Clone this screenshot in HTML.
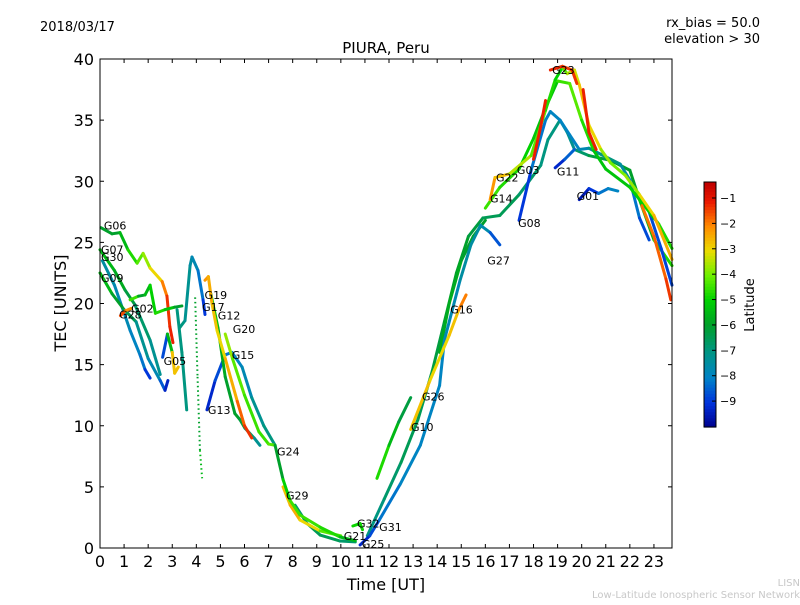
<!DOCTYPE html>
<html><head><meta charset="utf-8"><style>
body{margin:0;background:#fff;font-family:"Liberation Sans",sans-serif}
svg text{font-family:"DejaVu Sans","Liberation Sans",sans-serif}
</style></head><body>
<svg id="chart" width="800" height="600" viewBox="0 0 800 600">
<rect x="0" y="0" width="800" height="600" fill="#fff"/>
<text x="40" y="31" font-size="13">2018/03/17</text>
<text x="760" y="27" font-size="13" text-anchor="end">rx_bias = 50.0</text>
<text x="760" y="43" font-size="13" text-anchor="end">elevation &gt; 30</text>
<text x="386" y="53" font-size="15" text-anchor="middle">PIURA, Peru</text>
<text x="386" y="590" font-size="16" text-anchor="middle">Time [UT]</text>
<text transform="translate(66,303) rotate(-90)" font-size="16" text-anchor="middle">TEC [UNITS]</text>
<text x="754" y="305" font-size="13" text-anchor="middle" transform="rotate(-90 754 305)">Latitude</text>
<text x="800" y="586" font-size="10" fill="#c8c8c8" text-anchor="end">LISN</text>
<text x="800" y="598" font-size="10" fill="#c8c8c8" text-anchor="end">Low-Latitude Ionospheric Sensor Network</text>
<g id="marks"></g>
<g id="axes"></g>
</svg>
<script>
const xTicks=[0,1,2,3,4,5,6,7,8,9,10,11,12,13,14,15,16,17,18,19,20,21,22,23];
const yTicks=[0,5,10,15,20,25,30,35,40];
const cbTicks=[-1,-2,-3,-4,-5,-6,-7,-8,-9];
// tracks: [time UT, TEC, latitude]
const trackG06=[[0.04,26.2,-6],[0.5,25.7,-6],[0.83,25.8,-6],[1.16,24.4,-5],[1.54,23.3,-4.5],[1.79,24.1,-4],[2.08,22.9,-3.5],[2.58,21.8,-2.5],[2.78,20.6,-1.5],[2.9,18.1,-1.2],[3.03,16.8,-1.2]];
const trackG07=[[0,24.4,-5.5],[0.6,22.7,-5.5],[1.04,21.1,-6],[1.45,19.9,-6.5],[2.08,17,-7],[2.5,14.2,-7.5]];
const trackG30=[[0.1,23.5,-7.5],[0.6,21.5,-7.5],[1.25,17.8,-8],[1.66,15.8,-8],[1.87,14.6,-8.5],[2.08,13.9,-9.5]];
const trackG09=[[0,22.5,-5],[0.5,20.8,-6],[1.0,19.5,-6],[1.5,18.5,-7],[2.0,15.5,-7.5],[2.5,13.7,-8],[2.7,12.9,-9.2],[2.82,13.7,-9.5]];
const trackG02=[[1.25,20.3,-3],[1.6,20.6,-6],[1.87,20.7,-6],[2.08,21.5,-5],[2.3,19.2,-5],[2.7,19.5,-4.5],[3.1,19.7,-6],[3.4,19.8,-6]];
const trackG28=[[0.85,19.0,-1.3],[1.05,19.4,-1.8],[1.3,19.6,-2.5]];
const trackG05=[[2.6,15.6,-9.5],[2.8,17.5,-8],[3.0,16.0,-3],[3.1,14.3,-2.5],[3.25,14.8,-3]];
const trackHump=[[3.3,18.0,-7],[3.53,18.6,-7],[3.74,23.1,-7.5],[3.82,23.8,-7.5],[4.07,22.7,-8],[4.28,20.3,-8.5],[4.36,19.1,-9.5]];
const trackG17=[[3.2,19.5,-7],[3.4,16.0,-7],[3.6,11.3,-7]];
const trackDots=[[3.95,20.5,-6],[4.05,14,-6],[4.15,8.0,-5.5],[4.24,5.7,-5.5]];
const trackG19=[[4.36,21.9,-2],[4.5,22.2,-2.5],[4.65,20.0,-2.5],[4.86,17.8,-3],[5.2,15.5,-3],[5.7,12.0,-2],[6.0,10.0,-1.5],[6.3,9.0,-1.2]];
const trackG12=[[4.6,20.8,-5],[4.9,18.0,-5.5],[5.2,14.0,-6],[5.6,11.0,-6],[5.81,10.5,-6],[6.02,9.8,-6.5],[6.4,9.0,-7],[6.64,8.4,-7.5]];
const trackG20=[[5.2,17.5,-3.5],[5.5,15.5,-4],[6.0,12.5,-4.5],[6.6,9.5,-4.5],[7.0,8.5,-4.5],[7.27,8.4,-4]];
const trackG15=[[5.48,16.0,-8],[5.9,14.8,-8],[6.3,12.3,-7.5],[6.8,10.0,-7],[7.27,8.4,-7]];
const trackG13=[[4.44,11.3,-9.5],[4.78,13.7,-9],[5.2,15.8,-8.5],[5.48,16.0,-8]];
const trackG24=[[7.27,8.4,-6.5],[7.6,5.6,-5.5],[7.89,3.9,-4.5],[8.3,2.7,-4.5],[9.14,1.7,-4.5],[9.97,0.9,-5],[10.6,0.6,-6]];
const trackG29=[[7.6,5.0,-3],[7.9,3.5,-2.5],[8.3,2.3,-2.5],[9.14,1.4,-3.5],[10.0,1.0,-5]];
const trackG21=[[8.1,3.5,-7],[8.6,2.0,-6.5],[9.14,1.06,-6.5],[9.97,0.57,-6.5],[10.6,0.5,-7]];
const trackG32=[[10.5,1.8,-5],[10.8,2.0,-4.8],[10.9,1.5,-5]];
const trackG25=[[10.8,0.25,-9.5],[11.2,1.0,-9],[11.6,2.3,-8.5],[12.46,5.2,-8],[13.3,8.4,-8],[14.1,13.3,-8],[14.3,17,-8],[14.95,21.9,-7.5],[15.4,24.8,-7.5],[15.8,26.4,-7.5],[16.2,25.8,-7.8],[16.6,24.8,-9.5]];
const trackG26=[[11.5,5.7,-4.5],[12.0,8.4,-5],[12.4,10.3,-6],[12.9,12.3,-6.5]];
const trackG31=[[11.1,1.0,-7],[11.8,4.0,-7],[12.5,7.0,-6.5],[13.2,10.5,-6.5],[13.8,14.5,-6.5],[14.3,18.5,-6],[14.8,22.5,-6],[15.3,25.5,-6],[15.9,27,-6.5],[16.6,27.2,-6.5],[17.4,28.9,-6.5],[18.3,31.3,-7],[18.6,33.4,-7],[19.1,35,-7],[19.4,34,-7.5],[19.7,32.6,-7],[20.3,32.1,-6.5],[21.2,31.7,-6],[22.0,30.9,-6],[22.4,28.5,-6],[23.0,25.2,-5],[23.75,23.1,-4.5]];
const trackG10=[[12.9,9.7,-2.5],[13.7,13.7,-3],[14.5,17.4,-3],[14.9,19.5,-2.5],[15.2,20.7,-1.5]];
const trackG16=[[14.1,16,-6],[14.5,20,-5.5],[15.0,23.5,-6],[15.5,25.5,-6],[16.0,26.8,-6]];
const trackG22=[[16.2,28.5,-2],[16.4,30.3,-2.5],[17.0,30.6,-3],[17.9,32.1,-4],[18.5,35.8,-4.5],[18.9,38.3,-5],[19.2,39.3,-5],[19.4,38.8,-3.5],[19.7,39.1,-3.5],[19.9,37.9,-3],[20.3,34.6,-2.5],[20.8,32.6,-3.5],[21.2,31.5,-4],[21.8,30.5,-4],[22.4,28.9,-3.5],[23.0,27.2,-2.5],[23.75,23.6,-2.5]];
const trackG14=[[16.0,27.8,-4.5],[16.6,29.5,-4.5],[17.4,31,-5],[18.0,33.5,-5],[18.5,36,-5.5],[19.0,38.2,-5],[19.5,38,-4],[20.0,35,-4.5],[20.5,32.5,-5],[21.0,31.0,-5.5],[22.0,29.5,-5],[22.6,28.0,-5],[23.2,26.5,-5],[23.75,24.5,-4.5]];
const trackG23=[[18.7,39.1,-1.2],[19.2,39.4,-1.3],[19.6,39.1,-1.5],[19.8,38.0,-1.2]];
const trackRed1=[[18.0,31.8,-1.2],[18.3,34.5,-1.2],[18.5,36.6,-1.2]];
const trackRed2=[[20.06,37.5,-1.2],[20.3,34.0,-1.2],[20.6,32.6,-1.2]];
const trackRed3=[[22.5,28.0,-1.8],[23.0,25.5,-2],[23.5,22.0,-1.5],[23.7,20.3,-1.3]];
const trackG08=[[17.4,26.8,-9.5],[17.9,30.9,-8.5],[18.5,35.0,-8],[18.7,35.7,-8],[19.1,35.0,-8],[19.5,33.8,-8],[19.9,32.6,-8],[20.3,32.7,-7.5],[20.8,32.2,-7],[21.6,31.4,-7],[22.0,30.1,-8],[22.4,27.0,-8.5],[22.8,25.2,-9]];
const trackG11=[[18.9,31.1,-9.5],[19.3,31.8,-9],[19.7,32.6,-8]];
const trackG01=[[19.9,28.5,-9.5],[20.3,29.4,-9.5],[20.7,29.0,-8.5],[21.1,29.4,-8],[21.5,29.2,-8]];
const trackG04=[[22.8,27.5,-9],[23.3,24.5,-8.5],[23.75,21.5,-9.2]];
const tracks=[trackG30,trackG09,trackG07,trackG06,trackG02,trackG28,trackG05,trackG17,trackHump,trackG13,trackG15,trackG12,trackG20,trackG19,trackG21,trackG29,trackG24,trackG32,trackG26,trackG31,trackG16,trackG25,trackG10,trackG08,trackG11,trackG01,trackG04,trackG14,trackG22,trackRed1,trackRed2,trackRed3,trackG23];
const labelNames=["G06","G07","G30","G09","G02","G28","G05","G19","G17","G12","G20","G15","G13","G24","G29","G32","G31","G21","G25","G10","G26","G16","G27","G14","G22","G03","G08","G11","G01","G23"];
const labelTimes=[0.12,0.0,0.0,0.0,1.25,0.75,2.6,4.3,4.2,4.85,5.47,5.43,4.44,7.31,7.68,10.63,11.55,10.08,10.83,12.87,13.33,14.5,16.04,16.15,16.4,17.27,17.32,18.93,19.75,18.73];
const labelValues=[26.4,24.4,23.8,22.1,19.6,19.1,15.3,20.7,19.7,19.0,17.9,15.8,11.3,7.9,4.3,2.0,1.7,0.97,0.32,9.9,12.4,19.5,23.5,28.6,30.3,30.9,26.6,30.8,28.8,39.1];

const X0=100,X1=672,Y0=548,Y1=59,TMAX=23.75,VMAX=40;
const xs=t=>X0+t*(X1-X0)/TMAX;
const ys=v=>Y0-v*(Y0-Y1)/VMAX;
const LATMIN=-10.02,LATMAX=-0.37,CBT=182,CBB=427;
const cbY=l=>CBB-(l-LATMIN)/(LATMAX-LATMIN)*(CBB-CBT);
const STOPS=[[0,0,0,140],[0.1,0,50,220],[0.2,0,130,200],[0.31,0,150,130],[0.42,0,160,40],[0.52,0,210,0],[0.62,110,240,0],[0.72,235,220,0],[0.82,255,140,0],[0.92,235,25,0],[1,190,0,0]];
function jet(l){let v=(l-LATMIN)/(LATMAX-LATMIN);v=Math.max(0,Math.min(1,v));
for(let i=0;i<STOPS.length-1;i++){const a=STOPS[i],b=STOPS[i+1];if(v<=b[0]){const f=(v-a[0])/(b[0]-a[0]);
return `rgb(${Math.round(a[1]+f*(b[1]-a[1]))},${Math.round(a[2]+f*(b[2]-a[2]))},${Math.round(a[3]+f*(b[3]-a[3]))})`;}}
return 'rgb(190,0,0)';}
const NS="http://www.w3.org/2000/svg";
const marks=document.getElementById('marks'),axes=document.getElementById('axes');
function mk(tag,at,parent){const e=document.createElementNS(NS,tag);for(const k in at)e.setAttribute(k,at[k]);parent.appendChild(e);return e;}
tracks.forEach((tr,i)=>{
 const g=mk('g',{},marks);
 
 
 for(let k=0;k<tr.length-1;k++){
  const s=mk('line',{x1:xs(tr[k][0]),y1:ys(tr[k][1]),x2:xs(tr[k+1][0]),y2:ys(tr[k+1][1]),stroke:jet((tr[k][2]+tr[k+1][2])/2),'stroke-width':3,'stroke-linecap':'round'},g);
  
  
 }
});
{const g=mk('g',{},marks);
 
 
 for(let k=0;k<trackDots.length-1;k++){
  const s=mk('line',{x1:xs(trackDots[k][0]),y1:ys(trackDots[k][1]),x2:xs(trackDots[k+1][0]),y2:ys(trackDots[k+1][1]),stroke:jet(trackDots[k][2]),'stroke-width':2,'stroke-dasharray':'1.5 3'},g);
  
  
 }}
labelNames.forEach((n,i)=>{
 const t=mk('text',{x:xs(labelTimes[i])+1,y:ys(labelValues[i])+4,'font-size':11},marks);
 t.textContent=n;
 
 
});
const frame=mk('rect',{x:X0,y:Y1,width:X1-X0,height:Y0-Y1,fill:'none',stroke:'#000','stroke-width':1},axes);


xTicks.forEach(t=>{
 const x=xs(t);
 const a=mk('line',{x1:x,y1:Y0,x2:x,y2:Y0-4,stroke:'#000'},axes);
 
 
 const b=mk('line',{x1:x,y1:Y1,x2:x,y2:Y1+4,stroke:'#000'},axes);
 
 
 const l=mk('text',{x:x,y:Y0+19,'font-size':16,'text-anchor':'middle'},axes);
 l.textContent=t;
 
 
});
yTicks.forEach(v=>{
 const y=ys(v);
 const a=mk('line',{x1:X0,y1:y,x2:X0+4,y2:y,stroke:'#000'},axes);
 
 
 const b=mk('line',{x1:X1,y1:y,x2:X1-4,y2:y,stroke:'#000'},axes);
 
 
 const l=mk('text',{x:X0-6,y:y+6,'font-size':16,'text-anchor':'end'},axes);
 l.textContent=v;
 
 
});
const cb=mk('g',{},axes);


for(let i=0;i<80;i++){
 const l0=LATMIN+(LATMAX-LATMIN)*i/80,l1=LATMIN+(LATMAX-LATMIN)*(i+1)/80;
 const r=mk('rect',{x:704,y:cbY(l1),width:12,height:cbY(l0)-cbY(l1)+0.6,fill:jet((l0+l1)/2)},cb);
 
 
}
const cbf=mk('rect',{x:704,y:CBT,width:12,height:CBB-CBT,fill:'none',stroke:'#000'},cb);


cbTicks.forEach(v=>{
 const y=cbY(v);
 const a=mk('line',{x1:712,y1:y,x2:716,y2:y,stroke:'#000'},cb);
 
 
 const l=mk('text',{x:720,y:y+4,'font-size':11},cb);
 l.textContent='\u2212'+Math.abs(v);
 
 
});
</script>
</body></html>
